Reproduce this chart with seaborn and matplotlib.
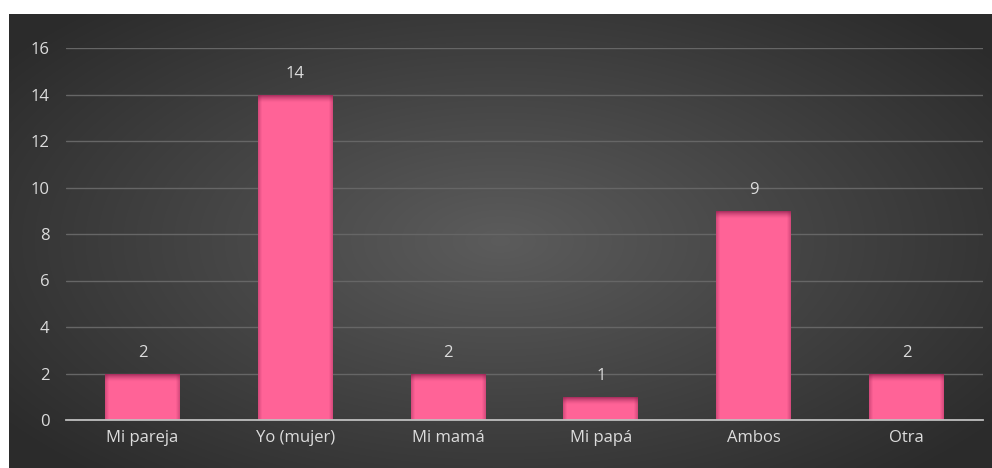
import numpy as np
import pandas as pd
import matplotlib
matplotlib.use("Agg")
import matplotlib.pyplot as plt
import seaborn as sns

categories = ["Mi pareja", "Yo (mujer)", "Mi mamá", "Mi papá", "Ambos", "Otra"]
values = [2, 14, 2, 1, 9, 2]
y_ticks = [0, 2, 4, 6, 8, 10, 12, 14, 16]

df = pd.DataFrame({"categoria": categories, "valor": values})

sns.set_theme(style="dark")
plt.rcParams["font.family"] = ["Open Sans", "DejaVu Sans"]

W, H = 992, 468
fig = plt.figure(figsize=(W / 100, H / 100), dpi=100)
fig.patch.set_facecolor("white")

# dark panel with a soft radial gradient behind the chart
bg = fig.add_axes([9 / W, 0, (W - 9) / W, (H - 14) / H])
bg.set_axis_off()
gx = np.linspace(-1, 1, 400)
gy = np.linspace(-1, 1, 200)
X, Y = np.meshgrid(gx, gy)
R = np.sqrt(X ** 2 + (Y * 0.9) ** 2)
R = np.clip(R / 1.25, 0, 1)
shade = 0.36 - 0.19 * R
img = np.dstack([shade, shade, shade])
bg.imshow(img, aspect="auto", extent=[0, 1, 0, 1], interpolation="bicubic")
bg.set_xlim(0, 1)
bg.set_ylim(0, 1)

ax = fig.add_axes([66 / W, 48 / H, (983 - 66) / W, (420 - 48) / H])
ax.patch.set_alpha(0)

sns.barplot(data=df, x="categoria", y="valor", color="#ff6397", width=0.49,
            saturation=1, linewidth=0, edgecolor="none", ax=ax, zorder=3)

ax.set_ylim(0, 16)
ax.set_xlim(-0.5, len(categories) - 0.5)
ax.set_yticks(y_ticks)
ax.set_yticklabels([str(t) for t in y_ticks])

# soft darker band along the top and faint shading along the sides of every bar
for p in ax.patches:
    x0, w, h = p.get_x(), p.get_width(), p.get_height()
    n = 60
    band = np.linspace(0, 1, n).reshape(-1, 1)
    col = np.zeros((n, 1, 4))
    col[..., 0] = 0.55
    col[..., 1] = 0.12
    col[..., 2] = 0.30
    col[..., 3] = (band ** 1.6) * 0.95
    depth = 0.36
    im = ax.imshow(col, extent=[x0, x0 + w, h - depth, h], aspect="auto",
                   zorder=4, interpolation="bilinear", origin="lower")
    im.set_clip_path(p)

    m = 80
    sx = np.abs(np.linspace(-1, 1, m)).reshape(1, -1)
    side = np.zeros((1, m, 4))
    side[..., 0] = 0.55
    side[..., 1] = 0.12
    side[..., 2] = 0.30
    side[..., 3] = np.clip((sx - 0.9) / 0.1, 0, 1) * 0.35
    im2 = ax.imshow(side, extent=[x0, x0 + w, 0, h], aspect="auto",
                    zorder=4, interpolation="bilinear", origin="lower")
    im2.set_clip_path(p)

    ax.annotate(f"{h:g}", (x0 + w / 2, h), xytext=(0, 9),
                textcoords="offset points", ha="center", va="bottom",
                fontsize=12, color="#dcdcdc", zorder=5)

ax.grid(axis="y", color="#666666", linewidth=1.0, zorder=0)
ax.grid(axis="x", visible=False)
for s in ["top", "right", "left"]:
    ax.spines[s].set_visible(False)
ax.spines["bottom"].set_color("#bfbfbf")
ax.spines["bottom"].set_linewidth(1.3)
ax.spines["bottom"].set_zorder(6)

ax.tick_params(axis="both", colors="#dcdcdc", labelsize=12, length=0)
ax.tick_params(axis="y", pad=12)
ax.tick_params(axis="x", pad=7)
ax.set_xlabel("")
ax.set_ylabel("")

fig.savefig("out.png", dpi=100)
